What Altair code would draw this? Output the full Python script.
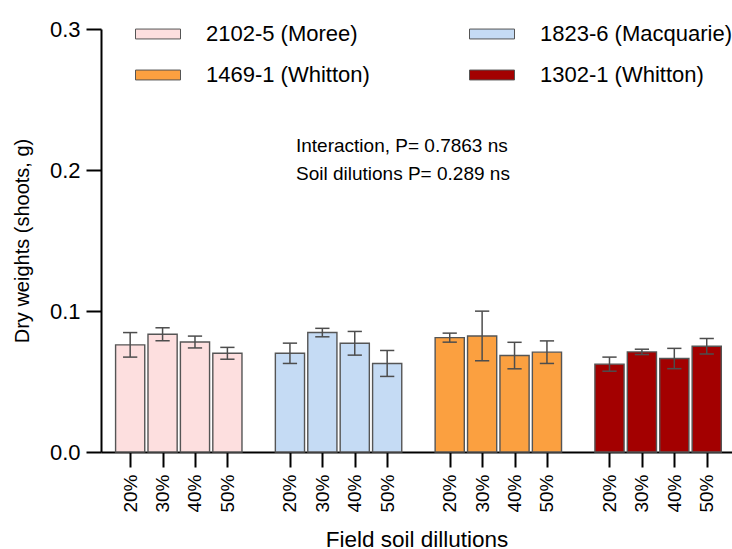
import altair as alt
import pandas as pd

# Strains (series) and soil dilution levels (categories)
strains = ["2102-5 (Moree)", "1823-6 (Macquarie)", "1469-1 (Whitton)", "1302-1 (Whitton)"]
dilutions = ["20%", "30%", "40%", "50%"]
colors = ["#FDDFDF", "#C5DBF4", "#FBA040", "#A30000"]

# Mean shoot dry weight (g) and SEM per strain, in dilution order
mean_moree = [0.0760, 0.0835, 0.0780, 0.0700]
sem_moree = [0.0087, 0.0046, 0.0042, 0.0042]
mean_macquarie = [0.0700, 0.0847, 0.0771, 0.0628]
sem_macquarie = [0.0072, 0.0030, 0.0084, 0.0092]
mean_whitton_1469 = [0.0811, 0.0823, 0.0684, 0.0708]
sem_whitton_1469 = [0.0032, 0.0176, 0.0094, 0.0080]
mean_whitton_1302 = [0.0623, 0.0710, 0.0663, 0.0750]
sem_whitton_1302 = [0.0050, 0.0019, 0.0072, 0.0055]

stats_lines = ["Interaction, P= 0.7863 ns", "Soil dilutions P= 0.289 ns"]

means = [mean_moree, mean_macquarie, mean_whitton_1469, mean_whitton_1302]
sems = [sem_moree, sem_macquarie, sem_whitton_1469, sem_whitton_1302]

GROUP_STEP = 4.93   # slot distance between strain groups
HALF_BAR = 0.45     # half bar width, in slot units
HALF_CAP = 0.22     # half error-cap width

rows = []
for g, strain in enumerate(strains):
    for i, dil in enumerate(dilutions):
        rows.append({
            "strain": strain,
            "dilution": dil,
            "pos": g * GROUP_STEP + i,
            "mean": means[g][i],
            "sem": sems[g][i],
        })
df = pd.DataFrame(rows)
tick_positions = df["pos"].tolist()

FONT = "Liberation Sans"

label_list = "[" + ",".join("'" + d + "'" for d in dilutions) + "]"
label_expr = (
    label_list
    + f"[round(datum.value - {GROUP_STEP}*floor((datum.value+0.5)/{GROUP_STEP}))]"
)

x_scale = alt.Scale(domain=[-0.9, 3 * GROUP_STEP + 3 + 0.78], nice=False, zero=False)
y_scale = alt.Scale(domain=[0, 0.3], nice=False)

# legend laid out column by column: first column Moree / 1469, second Macquarie / 1302
legend_order = [strains[0], strains[2], strains[1], strains[3]]

base = alt.Chart(df).transform_calculate(
    x_lo=f"datum.pos - {HALF_BAR}",
    x_hi=f"datum.pos + {HALF_BAR}",
    cap_lo=f"datum.pos - {HALF_CAP}",
    cap_hi=f"datum.pos + {HALF_CAP}",
    upper="datum.mean + datum.sem",
    lower="datum.mean - datum.sem",
)

bars = base.mark_bar(stroke="#555555", strokeWidth=1.4).encode(
    x=alt.X(
        "x_lo:Q",
        scale=x_scale,
        axis=alt.Axis(
            values=tick_positions,
            labelExpr=label_expr,
            labelAngle=-90,
            labelFontSize=19,
            labelPadding=7,
            tickSize=15,
            tickWidth=2,
            domainWidth=2,
            title="Field soil dillutions",
            titleFontSize=22.5,
            titleFontWeight="normal",
            titlePadding=16,
            grid=False,
        ),
    ),
    x2="x_hi:Q",
    y=alt.Y(
        "mean:Q",
        scale=y_scale,
        axis=alt.Axis(
            values=[0, 0.1, 0.2, 0.3],
            format=".1f",
            labelFontSize=22,
            labelPadding=6,
            tickSize=15,
            tickWidth=2,
            domainWidth=2,
            title="Dry weights (shoots, g)",
            titleFontSize=20,
            titleFontWeight="normal",
            titlePadding=17,
            grid=False,
        ),
    ),
    y2=alt.datum(0),
    fill=alt.Fill(
        "strain:N",
        scale=alt.Scale(domain=strains, range=colors),
        legend=alt.Legend(
            title=None,
            values=legend_order,
            orient="none",
            legendX=34,
            legendY=-18,
            columns=2,
            columnPadding=97,
            rowPadding=7,
            symbolType="M-1,-0.22H1V0.22H-1Z",
            symbolSize=2025,
            symbolStrokeColor="#555555",
            symbolStrokeWidth=1,
            symbolOffset=0,
            labelOffset=25,
            labelFontSize=22,
            labelFont=FONT,
            labelLimit=400,
            padding=0,
        ),
    ),
)

err_color = "#4d4d4d"
whisker = base.mark_rule(color=err_color, strokeWidth=1.5).encode(
    x="pos:Q", y="lower:Q", y2="upper:Q"
)
cap_top = base.mark_rule(color=err_color, strokeWidth=1.5).encode(
    x="cap_lo:Q", x2="cap_hi:Q", y="upper:Q"
)
cap_bot = base.mark_rule(color=err_color, strokeWidth=1.5).encode(
    x="cap_lo:Q", x2="cap_hi:Q", y="lower:Q"
)

# statistics note, one text line per layer
stat_layers = []
for k, line in enumerate(stats_lines):
    stat_layers.append(
        alt.Chart(pd.DataFrame({"line": [line]})).mark_text(
            align="left", baseline="middle", fontSize=19, font=FONT, color="black"
        ).encode(
            x=alt.value(195),
            y=alt.value(117 + 28 * k),
            text="line:N",
        )
    )

chart = alt.layer(bars, whisker, cap_top, cap_bot, *stat_layers).properties(
    width=631,
    height=423,
    autosize=alt.AutoSizeParams(type="none"),
    padding={"left": 101, "top": 29, "right": 0, "bottom": 97},
).configure(
    font=FONT,
).configure_view(
    stroke=None,
).configure_axis(
    domainColor="black",
    tickColor="black",
    labelColor="black",
    titleColor="black",
    labelFont=FONT,
    titleFont=FONT,
)

chart.save("out.html", embed_options={"renderer": "svg", "actions": False})
